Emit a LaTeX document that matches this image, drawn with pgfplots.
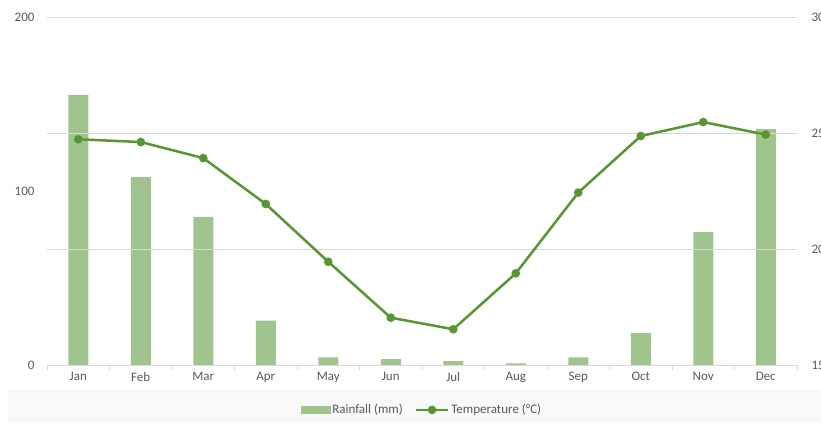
\documentclass[border=0pt]{standalone}
\usepackage{pgfplots}
\pgfplotsset{compat=1.18}
\usepackage{fontspec}
\setmainfont{Carlito}
\definecolor{barc}{RGB}{160,196,142}
\definecolor{linec}{RGB}{88,150,50}
\definecolor{txt}{RGB}{89,89,89}
\definecolor{gridc}{RGB}{217,217,217}
\definecolor{band}{RGB}{249,249,249}
\begin{document}
\fontsize{13pt}{15pt}\selectfont
\begin{tikzpicture}[x=1pt,y=1pt]
\path[use as bounding box] (0,0) rectangle (821,423);
\fill[band] (8,0) rectangle (821,34);
\begin{axis}[
  at={(47pt,58pt)}, anchor=south west,
  width=750pt, height=348pt, scale only axis,
  /pgf/number format/assume math mode=true,
  xmin=-0.5, xmax=11.5, ymin=0, ymax=200,
  xtick={0,...,11},
  xticklabels={Jan,Feb,Mar,Apr,May,Jun,Jul,Aug,Sep,Oct,Nov,Dec},
  minor xtick={-0.5,0.5,...,11.5},
  major tick length=0pt, minor tick length=5pt,
  tick align=outside,
  minor tick style={gridc, line width=0.8pt},
  ytick={0,100,200},
  axis y line*=left, axis x line*=bottom,
  y axis line style={draw=none},
  x axis line style={gridc, line width=0.8pt},
  ticklabel style={text=txt, font=\fontsize{13pt}{15pt}\selectfont},
  xticklabel style={yshift=-3pt},
  yticklabel style={xshift=-8pt},
  ybar, bar width=20pt,
]
\addplot[fill=barc, draw=none] coordinates {
 (0,155.2) (1,108) (2,85.2) (3,25.5) (4,4.4) (5,3.4) (6,2.2) (7,0.9) (8,4.4) (9,18.4) (10,76.3) (11,135.6)};
\end{axis}
\begin{axis}[
  at={(47pt,58pt)}, anchor=south west,
  width=750pt, height=348pt, scale only axis,
  /pgf/number format/assume math mode=true,
  xmin=-0.5, xmax=11.5, ymin=15, ymax=30,
  axis x line=none,
  axis y line*=right,
  y axis line style={draw=none},
  ytick={15,20,25,30},
  major tick length=0pt,
  ymajorgrids, grid style={gridc, line width=0.8pt},
  ticklabel style={text=txt, font=\fontsize{13pt}{15pt}\selectfont},
  yticklabel style={xshift=10pt},
  legend style={at={(0.5,-0.129)}, anchor=center, draw=none, fill=none,
    legend columns=2, text=txt, font=\fontsize{13pt}{15pt}\selectfont,
    /tikz/every even column/.append style={column sep=10pt}},
]
\addlegendimage{legend image code/.code={\fill[barc] (0pt,-3.5pt) rectangle (29pt,3.5pt);}}
\addlegendentry{Rainfall (mm)}
\addplot[linec, line width=2.5pt, mark=*, mark size=3pt, mark options={fill=linec, draw=linec},
  legend image code/.code={\draw[linec, line width=2.5pt] (0pt,0pt) -- (32pt,0pt); \fill[linec] (16pt,0pt) circle (3pt);}]
 coordinates {
 (0,24.73) (1,24.61) (2,23.92) (3,21.94) (4,19.45) (5,17.04) (6,16.54) (7,18.95) (8,22.43) (9,24.87) (10,25.47) (11,24.93)};
\addlegendentry{Temperature (°C)}
\end{axis}
\end{tikzpicture}
\end{document}
